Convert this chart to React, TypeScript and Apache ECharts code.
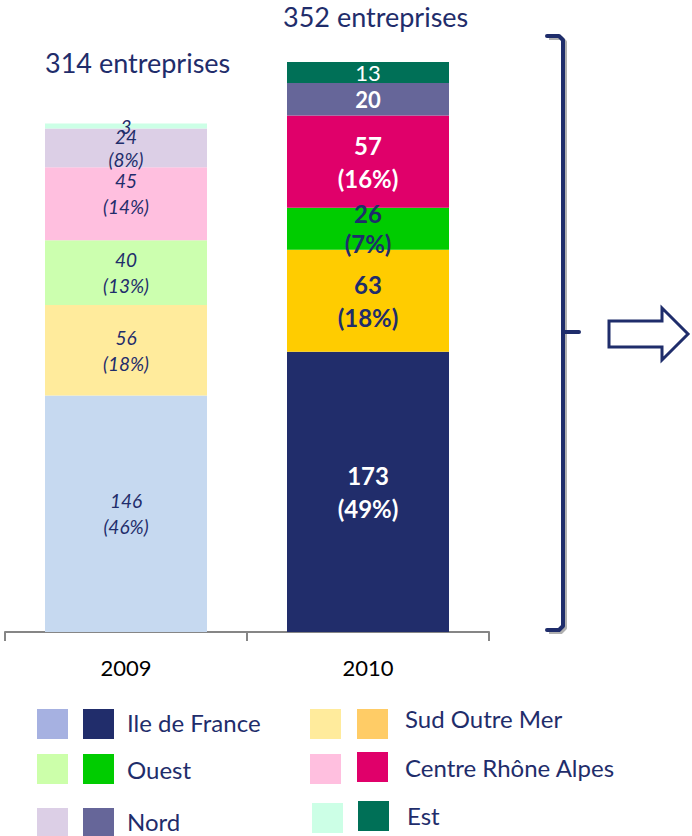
import React, { useEffect, useRef } from "react";
import * as echarts from "echarts";

const categories = ["2009", "2010"];
const regions = ["Ile de France", "Sud Outre Mer", "Ouest", "Centre Rhône Alpes", "Nord", "Est"];
const values2009 = [146, 56, 40, 45, 24, 3];
const values2010 = [173, 63, 26, 57, 20, 13];
const pct2009: (number | null)[] = [46, 18, 13, 14, 8, null];
const pct2010: (number | null)[] = [49, 18, 7, 16, null, null];
const totalSuffix = "entreprises";

const NAVY = "#1F2D6B";
const FONT = "Lato";

const colors2009 = ["#C6D9F0", "#FFEB9C", "#CCFFAF", "#FFBFDF", "#DCCFE6", "#CCFFE6"];
const colors2010 = ["#212D6B", "#FFCC00", "#00CC00", "#E0006A", "#666699", "#007057"];
const legendLight = ["#A6B1E1", "#FFEB9C", "#CCFFAA", "#FFBFDF", "#DCCFE6", "#CCFFE6"];
const legendDark = ["#212D6B", "#FFCC66", "#00CC00", "#E0006A", "#666699", "#007057"];
const label2010Colors = ["#FFFFFF", NAVY, NAVY, "#FFFFFF", "#FFFFFF", "#FFFFFF"];
const label2010Weights = ["bold", "bold", "bold", "bold", "bold", "normal"];

// legend layout (index into regions): [x light, y light, x dark, y dark, text x, text y]
const legendLayout: Record<number, number[]> = {
  0: [37, 709, 83, 709, 127, 722],
  2: [37, 754, 83, 754, 127, 769],
  4: [37, 808, 83, 808, 127, 821],
  1: [310, 709, 357, 709, 405, 718],
  3: [310, 754, 357, 752, 405, 767],
  5: [312, 803, 358, 801, 407, 815],
};

export default function App() {
  const ref = useRef<HTMLDivElement>(null);
  useEffect(() => {
    if (!ref.current) return;
    const chart = echarts.init(ref.current, null, { renderer: "svg" });
    const total2009 = values2009.reduce((a, b) => a + b, 0);
    const total2010 = values2010.reduce((a, b) => a + b, 0);

    const series = regions.map((name, i) => {
      const f09 = pct2009[i] != null ? `${values2009[i]}\n(${pct2009[i]}%)` : `${values2009[i]}`;
      const f10 = pct2010[i] != null ? `${values2010[i]}\n(${pct2010[i]}%)` : `${values2010[i]}`;
      return {
        name,
        type: "bar",
        stack: "total",
        barWidth: 162,
        data: [
          {
            value: values2009[i],
            itemStyle: { color: colors2009[i] },
            label: {
              show: true,
              position: "inside",
              formatter: f09,
              color: NAVY,
              fontStyle: "italic",
              fontFamily: FONT,
              fontSize: 19,
              lineHeight: i === 4 ? 23 : 26,
              offset: i === 3 ? [0, -10] : i === 5 ? [0, 1] : [0, 0],
            },
          },
          {
            value: values2010[i],
            itemStyle: { color: colors2010[i] },
            label: {
              show: true,
              position: "inside",
              formatter: f10,
              color: label2010Colors[i],
              fontWeight: label2010Weights[i],
              fontFamily: FONT,
              fontSize: i >= 4 ? 22 : 24,
              lineHeight: i === 2 ? 30 : 33,
            },
          },
        ],
      };
    });

    const graphics: any[] = [
      {
        type: "text",
        left: 45,
        top: 49,
        style: { text: `${total2009} ${totalSuffix}`, fill: NAVY, font: `27px ${FONT}` },
      },
      {
        type: "text",
        left: 283,
        top: 3,
        style: { text: `${total2010} ${totalSuffix}`, fill: NAVY, font: `27px ${FONT}` },
      },
      {
        type: "polyline",
        shape: { points: [[549, 38], [561, 38], [565, 42], [565, 628], [561, 632], [549, 632]] },
        style: { stroke: "#B0B0B0", lineWidth: 4, fill: null, lineJoin: "round" },
      },
      {
        type: "polyline",
        shape: { points: [[547, 36], [559, 36], [563, 40], [563, 626], [559, 630], [547, 630]] },
        style: { stroke: NAVY, lineWidth: 4, fill: null, lineJoin: "round", lineCap: "round" },
      },
      {
        type: "line",
        shape: { x1: 563, y1: 332, x2: 579, y2: 332 },
        style: { stroke: NAVY, lineWidth: 4, lineCap: "round" },
      },
      {
        type: "polygon",
        shape: {
          points: [[609, 321], [662, 321], [662, 308], [688, 334], [662, 360], [662, 347], [609, 347]],
        },
        style: { stroke: NAVY, lineWidth: 3, fill: "#FFFFFF", lineJoin: "miter" },
      },
    ];

    regions.forEach((name, i) => {
      const [lx, ly, dx, dy, tx, ty] = legendLayout[i];
      graphics.push(
        { type: "rect", shape: { x: lx, y: ly, width: 31, height: 30 }, style: { fill: legendLight[i] } },
        { type: "rect", shape: { x: dx, y: dy, width: 31, height: 30 }, style: { fill: legendDark[i] } },
        {
          type: "text",
          x: tx,
          y: ty,
          style: { text: name, fill: NAVY, font: `24px ${FONT}`, verticalAlign: "middle" },
        }
      );
    });

    chart.setOption({
      animation: false,
      grid: { left: 5, right: 203, top: 62, bottom: 204, containLabel: false },
      xAxis: {
        type: "category",
        data: categories,
        axisLine: { show: true, lineStyle: { color: "#868686", width: 2 } },
        axisTick: { show: true, length: 9, lineStyle: { color: "#868686", width: 2 } },
        axisLabel: { color: "#000000", fontFamily: FONT, fontSize: 22, margin: 24 },
      },
      yAxis: { type: "value", min: 0, max: total2010, show: false, splitLine: { show: false } },
      series,
      graphic: graphics,
    });
    return () => chart.dispose();
  }, []);
  return <div ref={ref} style={{ width: 692, height: 836, position: "absolute", left: 0, top: 0 }} />;
}
